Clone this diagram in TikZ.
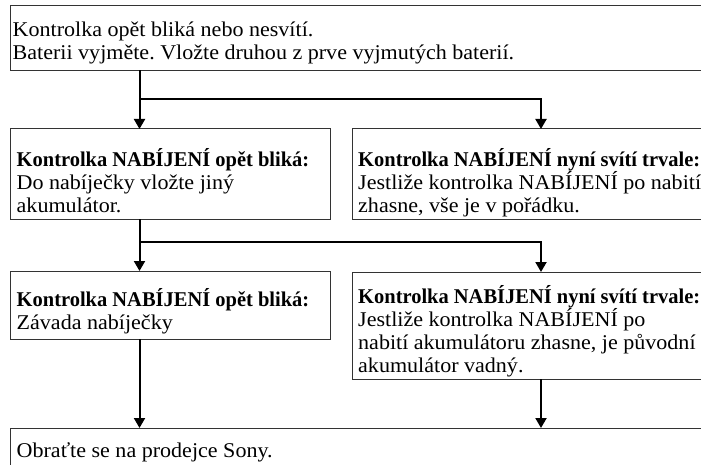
\documentclass[tikz,border=0pt]{standalone}
\usepackage{fontspec}
\setmainfont{Liberation Serif}[UprightFeatures={FakeStretch=1.05}, BoldFeatures={FakeStretch=0.975}]
\usetikzlibrary{arrows.meta}
\newcommand{\firstln}{\rule{0pt}{22pt}}
\frenchspacing
\begin{document}
\begin{tikzpicture}[x=1pt,y=-1pt,
  box/.style={draw=black!80, line width=1pt, rectangle, inner sep=0pt, outer sep=0pt, anchor=north west},
  txt/.style={anchor=north west, inner sep=0pt, align=left, font=\fontsize{21}{23}\selectfont},
  conn/.style={line width=2pt, -{Triangle[width=11pt,length=10pt]}}]
\useasboundingbox (0,0) rectangle (701,465);
\clip (0,0) rectangle (701,465);
% boxes
\node[box, minimum width=695.5pt, minimum height=64.5pt] (top) at (10.5,6) {};
\node[box, minimum width=320pt, minimum height=90pt] (b2) at (10.5,129) {};
\node[box, minimum width=353.5pt, minimum height=90pt] (b3) at (352.5,129) {};
\node[box, minimum width=320pt, minimum height=68pt] (b4) at (10.5,271) {};
\node[box, minimum width=353.5pt, minimum height=107pt] (b5) at (352.5,272) {};
\node[box, minimum width=695.5pt, minimum height=45pt] (b6) at (10.5,428) {};
% texts
\node[txt] (t1) at (12.5,14) {\firstln Kontrolka opět bliká nebo nesvítí.\\Baterii vyjměte. Vložte druhou z prve vyjmutých baterií.};
\node[txt] (t2) at (16.5,144) {\firstln\textbf{Kontrolka NABÍJENÍ opět bliká:}\\Do nabíječky vložte jiný\\akumulátor.};
\node[txt] (t3) at (358,144) {\firstln\textbf{Kontrolka NABÍJENÍ nyní svítí trvale:}\\Jestliže kontrolka NABÍJENÍ po nabití\\zhasne, vše je v pořádku.};
\node[txt] (t4) at (16.5,284) {\firstln\textbf{Kontrolka NABÍJENÍ opět bliká:}\\Závada nabíječky};
\node[txt] (t5) at (358,281) {\firstln\textbf{Kontrolka NABÍJENÍ nyní svítí trvale:}\\Jestliže kontrolka NABÍJENÍ po\\nabití akumulátoru zhasne, je původní\\akumulátor vadný.};
\node[txt] (t6) at (16.5,435) {\firstln Obraťte se na prodejce Sony.};
% connector columns
\coordinate (xa) at (139.5,0);
\coordinate (xb) at (541,0);
\coordinate (j1) at (139.5,99);
\coordinate (j2) at (139.5,242);
% connectors
\draw[conn] (top.south -| xa) -- (b2.north -| xa);
\draw[conn] (j1) -| (b3.north -| xb);
\draw[conn] (b2.south -| xa) -- (b4.north -| xa);
\draw[conn] (j2) -| (b5.north -| xb);
\draw[conn] (b4.south -| xa) -- (b6.north -| xa);
\draw[conn] (b5.south -| xb) -- (b6.north -| xb);
\end{tikzpicture}
\end{document}
